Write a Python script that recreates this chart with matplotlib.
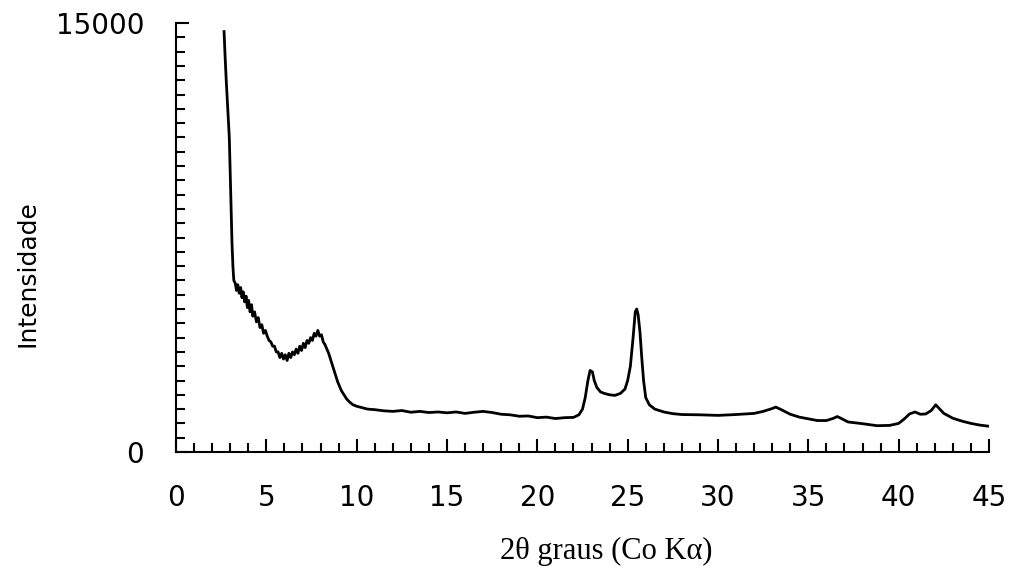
import matplotlib
matplotlib.use('Agg')
import matplotlib.pyplot as plt
from matplotlib.ticker import FixedLocator, MultipleLocator

# 2theta (degrees) and intensity
two_theta = [
    2.66, 2.72, 2.78, 2.84, 2.88, 2.95, 3.00, 3.05, 3.10, 3.15,
    3.20, 3.28, 3.35, 3.42, 3.50, 3.58, 3.65, 3.72, 3.80, 3.88,
    3.95, 4.02, 4.10, 4.18, 4.25, 4.35, 4.45, 4.55, 4.65, 4.75,
    4.85, 4.95, 5.05, 5.15, 5.25, 5.35, 5.45, 5.55, 5.65, 5.75,
    5.85, 5.95, 6.05, 6.15, 6.25, 6.35, 6.45, 6.55, 6.65, 6.75,
    6.85, 6.95, 7.05, 7.15, 7.25, 7.35, 7.45, 7.55, 7.65, 7.75,
    7.85, 7.95, 8.05, 8.15, 8.25, 8.35, 8.45, 8.55, 8.65, 8.75,
    8.85, 8.95, 9.05, 9.15, 9.25, 9.35, 9.45, 9.6, 9.8, 10.0,
    10.3, 10.6, 11.0, 11.5, 12.0, 12.5, 13.0, 13.5, 14.0, 14.5,
    15.0, 15.5, 16.0, 16.5, 17.0, 17.5, 18.0, 18.5, 19.0, 19.5,
    20.0, 20.5, 21.0, 21.5, 22.0, 22.3, 22.5, 22.65, 22.8, 22.92,
    23.05, 23.15, 23.3, 23.5, 23.7, 24.0, 24.3, 24.6, 24.85, 25.0,
    25.15, 25.3, 25.42, 25.5, 25.58, 25.68, 25.78, 25.88, 26.0, 26.2,
    26.5, 27.0, 27.5, 28.0, 29.0, 30.0, 31.0, 32.0, 32.5, 33.0,
    33.2, 33.5, 34.0, 34.5, 35.0, 35.5, 36.0, 36.4, 36.6, 36.8,
    37.2, 38.0, 38.8, 39.5, 40.0, 40.3, 40.6, 40.9, 41.2, 41.5,
    41.8, 42.05, 42.2, 42.5, 43.0, 43.5, 44.0, 44.5, 45.0,
]
intensity = [
    14700, 13800, 13000, 12300, 11900, 11000, 9800, 8600, 7300, 6500,
    6000, 5900, 5650, 5850, 5550, 5750, 5400, 5600, 5250, 5450,
    5050, 5300, 4900, 5150, 4750, 4900, 4550, 4700, 4350, 4450,
    4150, 4250, 4050, 3900, 3850, 3700, 3700, 3500, 3500, 3300,
    3450, 3250, 3400, 3200, 3450, 3300, 3500, 3400, 3600, 3450,
    3700, 3550, 3800, 3650, 3900, 3800, 4000, 3900, 4150, 4050,
    4250, 4050, 4100, 3850, 3750, 3600, 3450, 3250, 3050, 2850,
    2650, 2450, 2300, 2150, 2050, 1950, 1850, 1750, 1650, 1600,
    1550, 1500, 1480, 1440, 1420, 1450, 1390, 1420, 1380, 1400,
    1370, 1400, 1350, 1390, 1420, 1380, 1320, 1300, 1250, 1260,
    1200, 1220, 1170, 1200, 1210, 1300, 1500, 1900, 2500, 2850,
    2800, 2500, 2250, 2100, 2050, 2000, 1980, 2050, 2200, 2500,
    3000, 4000, 4900, 5000, 4800, 4200, 3300, 2500, 1900, 1650,
    1500, 1400, 1340, 1310, 1300, 1280, 1310, 1350, 1420, 1520,
    1570, 1480, 1320, 1220, 1160, 1100, 1100, 1180, 1240, 1180,
    1050, 990, 920, 930, 1000, 1150, 1330, 1400, 1320, 1330,
    1450, 1650, 1550, 1350, 1180, 1080, 1000, 940, 900,
]

y_ticks = [0, 15000]
y_ticklabels = ['0', '15000']
x_ticks = [0, 5, 10, 15, 20, 25, 30, 35, 40, 45]

fig = plt.figure(figsize=(10.11, 5.74), dpi=100)
ax = fig.add_axes([176 / 1011, 122 / 574, 813 / 1011, 429 / 574])

ax.plot(two_theta, intensity, color='black', lw=2.0)

ax.set_xlim(0, 45)
ax.set_ylim(0, 15000)

ax.spines['top'].set_visible(False)
ax.spines['right'].set_visible(False)
ax.spines['left'].set_linewidth(1.5)
ax.spines['bottom'].set_linewidth(1.5)

ax.xaxis.set_major_locator(FixedLocator(x_ticks))
ax.xaxis.set_minor_locator(MultipleLocator(1))
ax.yaxis.set_major_locator(FixedLocator(y_ticks))
ax.yaxis.set_minor_locator(MultipleLocator(500))
ax.set_yticklabels(y_ticklabels)

ax.tick_params(which='both', direction='in', width=1.5, colors='black')
ax.tick_params(which='major', length=9.5)
ax.tick_params(which='minor', length=6.5)
ax.tick_params(axis='x', which='major', pad=23, labelsize=20)
ax.tick_params(axis='y', which='major', pad=23, labelsize=20)
for lab in ax.get_xticklabels() + ax.get_yticklabels():
    lab.set_fontfamily('DejaVu Sans')

ax.set_xlabel('2θ graus (Co Kα)', fontsize=22, fontfamily='Liberation Serif', va='center')
ax.xaxis.set_label_coords((606.5 - 176) / 813, (452 - 551) / 429)
ax.set_ylabel('Intensidade', fontsize=18, fontfamily='DejaVu Sans', va='center')
ax.yaxis.set_label_coords((28 - 176) / 813, (452 - 274) / 429)

fig.savefig('out.png', dpi=100)
